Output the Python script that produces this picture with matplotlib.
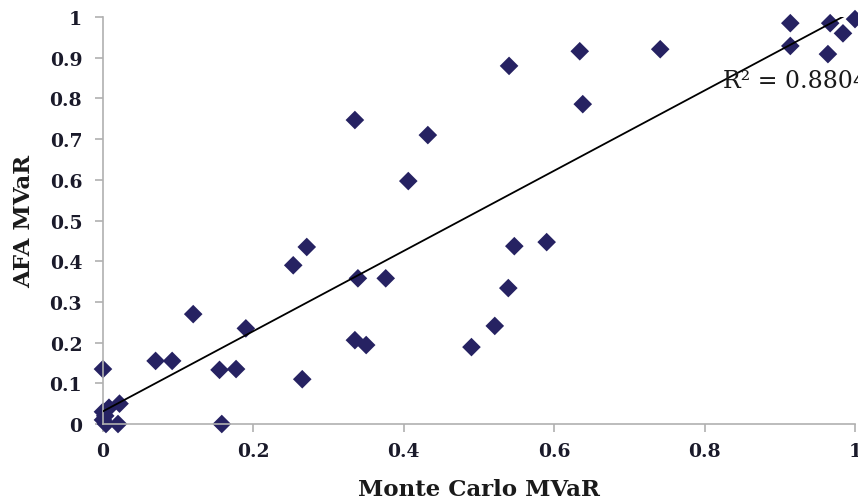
import numpy as np
import matplotlib
matplotlib.use("Agg")
import matplotlib.pyplot as plt

monte_carlo = [0.0, 0.0, 0.0, 0.004, 0.003, 0.008, 0.022, 0.02, 0.07, 0.092, 0.12,
               0.158, 0.155, 0.177, 0.19, 0.253, 0.271, 0.265, 0.335, 0.339, 0.335,
               0.35, 0.376, 0.406, 0.432, 0.49, 0.521, 0.539, 0.54, 0.547, 0.59,
               0.634, 0.638, 0.741, 0.914, 0.914, 0.964, 0.967, 0.984, 1.0]
afa = [0.135, 0.03, 0.01, 0.0, 0.02, 0.04, 0.05, 0.0, 0.155, 0.155, 0.27,
       0.0, 0.133, 0.135, 0.235, 0.39, 0.435, 0.11, 0.747, 0.358, 0.206,
       0.194, 0.358, 0.597, 0.71, 0.189, 0.241, 0.334, 0.88, 0.437, 0.447,
       0.916, 0.786, 0.921, 0.985, 0.929, 0.909, 0.985, 0.96, 0.995]
r2_label = "R² = 0.8804"
x_ticks = [0, 0.2, 0.4, 0.6, 0.8, 1]
y_ticks = [0, 0.1, 0.2, 0.3, 0.4, 0.5, 0.6, 0.7, 0.8, 0.9, 1]

serif = ["DejaVu Serif"]

fig = plt.figure(figsize=(8.58, 5.02), dpi=100)
ax = fig.add_axes([0.12, 0.1534, 0.8765, 0.8106])

x = np.array(monte_carlo)
y = np.array(afa)
slope, intercept = np.polyfit(x, y, 1)
xl = np.linspace(0, 1, 200)
ax.plot(xl, slope * xl + intercept, color="black", lw=1.3, zorder=3)

ax.scatter(x, y, marker="D", s=90, color="#262262", edgecolors="none",
           zorder=2, clip_on=False)

ax.set_xlim(0, 1)
ax.set_ylim(0, 1)
ax.set_xticks(x_ticks)
ax.set_xticklabels([f"{t:g}" for t in x_ticks])
ax.set_yticks(y_ticks)
ax.set_yticklabels([f"{t:g}" for t in y_ticks])

for s in ["top", "right"]:
    ax.spines[s].set_visible(False)
for s in ["left", "bottom"]:
    ax.spines[s].set_color("#B0B0B0")
    ax.spines[s].set_linewidth(1.2)
ax.tick_params(axis="both", colors="#B0B0B0", length=6, width=1.2, direction="out",
               labelcolor="#1a1a2a", labelsize=13.5)
for lab in ax.get_xticklabels() + ax.get_yticklabels():
    lab.set_fontfamily(serif)
    lab.set_fontweight("bold")
ax.tick_params(axis="x", pad=7)
ax.tick_params(axis="y", pad=9)

ax.set_xlabel("Monte Carlo MVaR", fontsize=16.5, fontweight="bold", family=serif,
              color="#1a1a1a")
ax.set_ylabel("AFA MVaR", fontsize=16.5, fontweight="bold", family=serif,
              color="#1a1a1a")
ax.xaxis.set_label_coords(0.5, -0.16)
ax.xaxis.label.set_va("center")
ax.yaxis.set_label_coords(-0.105, 0.5)
ax.yaxis.label.set_va("center")

ax.text(0.824, 0.843, r2_label, fontsize=17, family=serif, color="#1a1a1a",
        va="center", ha="left", zorder=4, clip_on=False)

fig.savefig("out.png", dpi=100)
